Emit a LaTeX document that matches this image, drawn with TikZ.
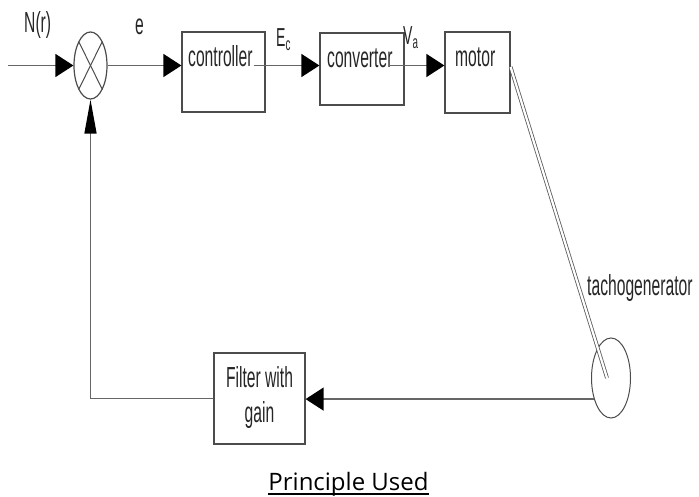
\documentclass[tikz,border=0pt]{standalone}
\usepackage{fontspec}
\usetikzlibrary{shapes.geometric,arrows.meta,calc}
\newfontfamily\cond[FakeStretch=0.54]{Liberation Sans}
\newfontfamily\capfont{Open Sans}
\tikzset{
  blk/.style={draw=black!70, line width=1.2pt, inner sep=0pt},
  lbl/.style={inner sep=0pt, font=\cond\fontsize{29}{34}\selectfont, text=black!85},
  sublbl/.style={inner sep=0pt, font=\cond\fontsize{26}{30}\selectfont, text=black!85},
  wire/.style={draw=black!60, line width=1.3pt},
  harr/.style={wire, -{Triangle[length=18pt,width=23pt,fill=black,color=black]}},
  varr/.style={wire, -{Triangle[length=34pt,width=12pt,fill=black,color=black]}},
}
\begin{document}
\begin{tikzpicture}[x=1pt,y=-1pt]
\useasboundingbox (0,0) rectangle (699,497);
% blocks
\node[blk, ellipse, minimum width=33pt, minimum height=67pt] (sum) at (90.5,65.5) {};
\draw[black!70, line width=1pt] ($(sum.center)+(-11.7,-23.7)$) -- ($(sum.center)+(11.7,23.7)$);
\draw[black!70, line width=1pt] ($(sum.center)+(11.7,-23.7)$) -- ($(sum.center)+(-11.7,23.7)$);
\node[blk, minimum width=83pt, minimum height=80pt] (ctrl) at (223.5,72) {};
\node[blk, minimum width=84pt, minimum height=72pt] (conv) at (362,69) {};
\node[blk, minimum width=65pt, minimum height=81pt] (motor) at (477.5,72.5) {};
\node[blk, minimum width=91pt, minimum height=91pt] (filt) at (259.5,398.5) {};
\node[blk, ellipse, minimum width=39pt, minimum height=80pt, line width=1pt] (tacho) at (611,378) {};
% texts
\node[lbl, anchor=base west] (tctrl) at (188,67) {controller};
\node[lbl, anchor=base west] (tconv) at (327,68) {converter};
\node[lbl, anchor=base west] (tmotor) at (455,67) {motor};
\node[lbl, anchor=base] (tfilt1) at (259.5,387) {Filter with};
\node[lbl, anchor=base] (tfilt2) at (259.5,422) {gain};
\node[lbl, anchor=base west] (tN) at (24,33) {N(r)};
\node[lbl, anchor=base west] (te) at (135,35) {e};
\node[sublbl, anchor=base west] (tE) at (276,47) {E\textsubscript{c}};
\node[sublbl, anchor=base west] (tV) at (403,45) {V\textsubscript{a}};
\node[lbl, anchor=base west] (ttacho) at (587,295) {tachogenerator};
\node[inner sep=0pt, anchor=base, font=\capfont\fontsize{24}{28}\selectfont] (title) at (348.5,490) {Principle Used};
\draw[black, line width=1.2pt] ([yshift=-4pt]title.base west) -- ([yshift=-4pt]title.base east);
% connectors
\coordinate (in) at (8,65.5);
\coordinate (c1) at ([xshift=-12pt]ctrl.east);
\coordinate (c2) at ([xshift=-16pt]conv.east);
\draw[harr] (in) -- (sum.west);
\draw[harr] (sum.east) -- (sum.east -| ctrl.west);
\draw[harr] (c1 |- sum.east) -- (sum.east -| conv.west);
\draw[harr] (c2 |- sum.east) -- (sum.east -| motor.west);
\draw[black!65, line width=0.8pt, double=white, double distance=2.2pt] ([yshift=5.5pt]motor.east) -- ([xshift=-4pt]tacho.center);
\draw[harr] (tacho.231) -- (tacho.231 -| filt.east);
\draw[varr] (filt.west) -| (sum.south);
\end{tikzpicture}
\end{document}
